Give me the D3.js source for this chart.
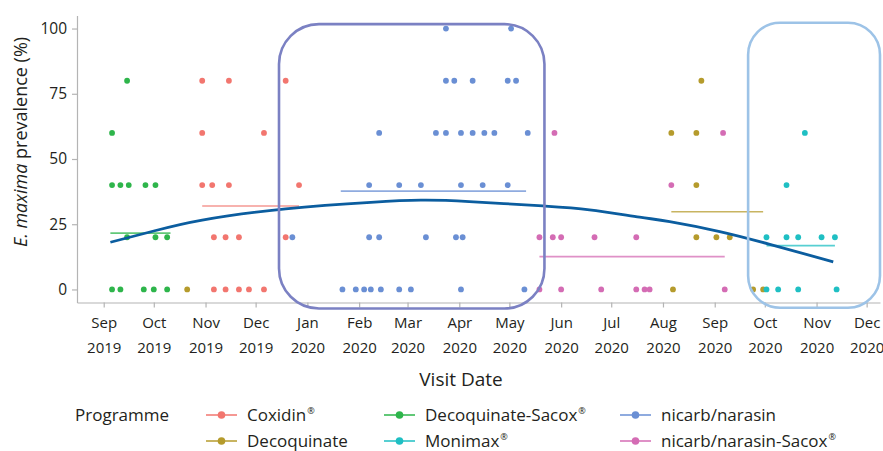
<!DOCTYPE html>
<html>
<head>
<meta charset="utf-8">
<script src="https://cdn.jsdelivr.net/npm/d3@7"></script>
<style>
  body { margin: 0; background: #fff; }
  text { font-family: 'Open Sans', sans-serif; fill: #231f20; }
</style>
</head>
<body>
<div id="chart"></div>
<script>
//
// Data
//
const programmes = ['Coxidin®', 'Decoquinate', 'Decoquinate-Sacox®', 'Monimax®', 'nicarb/narasin', 'nicarb/narasin-Sacox®']

const coxidin = [
  ['2019-10-30', 80], ['2019-11-15', 80], ['2019-12-19', 80],
  ['2019-10-30', 60], ['2019-12-06', 60],
  ['2019-10-30', 40], ['2019-11-05', 40], ['2019-11-15', 40], ['2019-12-27', 40],
  ['2019-11-06', 20], ['2019-11-13', 20], ['2019-11-21', 20], ['2019-12-19', 20],
  ['2019-11-06', 0], ['2019-11-13', 0], ['2019-11-21', 0], ['2019-11-27', 0], ['2019-12-06', 0]
]
const decoquinate = [
  ['2019-10-21', 0], ['2020-08-07', 0], ['2020-09-24', 0], ['2020-09-30', 0],
  ['2020-08-21', 20], ['2020-09-02', 20], ['2020-09-10', 20],
  ['2020-08-21', 40],
  ['2020-08-06', 60], ['2020-08-21', 60],
  ['2020-08-24', 80]
]
const decoquinateSacox = [
  ['2019-09-15', 80], ['2019-09-06', 60],
  ['2019-09-06', 40], ['2019-09-11', 40], ['2019-09-16', 40], ['2019-09-26', 40], ['2019-10-02', 40],
  ['2019-09-15', 20], ['2019-10-02', 20], ['2019-10-09', 20],
  ['2019-09-06', 0], ['2019-09-11', 0], ['2019-09-25', 0], ['2019-10-01', 0], ['2019-10-09', 0]
]
const monimax = [
  ['2020-10-25', 60], ['2020-10-14', 40],
  ['2020-10-02', 20], ['2020-10-14', 20], ['2020-10-21', 20], ['2020-11-04', 20], ['2020-11-12', 20],
  ['2020-10-02', 0], ['2020-10-09', 0], ['2020-10-21', 0], ['2020-11-13', 0]
]
const nicarbNarasin = [
  ['2020-03-24', 100], ['2020-05-02', 100],
  ['2020-03-24', 80], ['2020-03-29', 80], ['2020-04-09', 80], ['2020-04-30', 80], ['2020-05-05', 80],
  ['2020-02-13', 60], ['2020-03-18', 60], ['2020-03-24', 60], ['2020-04-02', 60], ['2020-04-09', 60],
  ['2020-04-16', 60], ['2020-04-22', 60], ['2020-05-12', 60],
  ['2020-02-07', 40], ['2020-02-25', 40], ['2020-03-09', 40], ['2020-04-02', 40], ['2020-04-15', 40], ['2020-04-30', 40],
  ['2019-12-23', 20], ['2020-02-07', 20], ['2020-02-13', 20], ['2020-03-12', 20], ['2020-03-30', 20], ['2020-04-03', 20],
  ['2020-01-22', 0], ['2020-01-30', 0], ['2020-02-04', 0], ['2020-02-08', 0], ['2020-02-14', 0],
  ['2020-02-25', 0], ['2020-03-03', 0], ['2020-04-02', 0], ['2020-05-10', 0]
]
const nicarbNarasinSacox = [
  ['2020-05-28', 60], ['2020-09-06', 60], ['2020-08-06', 40],
  ['2020-05-19', 20], ['2020-05-27', 20], ['2020-06-01', 20], ['2020-06-21', 20], ['2020-07-16', 20],
  ['2020-05-19', 0], ['2020-06-01', 0], ['2020-06-25', 0], ['2020-07-16', 0], ['2020-07-21', 0],
  ['2020-07-24', 0], ['2020-09-07', 0]
]
const pointSeries = [coxidin, decoquinate, decoquinateSacox, monimax, nicarbNarasin, nicarbNarasinSacox]

// programme mean prevalence over the programme period
const meanStart = ['2019-10-30', '2020-08-06', '2019-09-05', '2020-10-02', '2020-01-21', '2020-05-19']
const meanEnd = ['2019-12-27', '2020-09-30', '2019-10-11', '2020-11-12', '2020-05-11', '2020-09-07']
const meanValue = [32.0, 29.8, 21.6, 16.8, 37.7, 12.6]

// overall trend
const trendDates = ['2019-09-05', '2019-10-01', '2019-10-30', '2019-12-19', '2020-02-08', '2020-03-09', '2020-04-07',
  '2020-05-21', '2020-06-18', '2020-07-18', '2020-08-05', '2020-09-04', '2020-10-04', '2020-11-11']
const trendValues = [18.1, 22.4, 26.6, 30.9, 33.4, 34.2, 33.7, 32.0, 30.5, 27.7, 26.0, 22.2, 17.3, 10.6]

// highlight boxes (date range, value range)
const boxStart = ['2019-12-15', '2020-09-21']
const boxEnd = ['2020-05-22', '2020-12-09']
const boxLow = [-7.3, -7.0]
const boxHigh = [101.7, 102.2]

const yTicks = [0, 25, 50, 75, 100]

//
// Styles
//
const colours = ['#f2766f', '#b59b2c', '#2eb54b', '#1fbfc3', '#6a8fd4', '#d46cb4']
const boxColours = ['#7b81c3', '#9dc3e7']
const axisColour = '#b4b4b4'

const width = 883
const height = 451
const parse = d3.utcParse('%Y-%m-%d')

const svg = d3.select('#chart')
  .append('svg')
  .attr('width', width)
  .attr('height', height)

const x = d3.scaleUtc()
  .domain([parse('2019-08-16'), parse('2020-12-09')])
  .range([77, 880])
const y = d3.scaleLinear()
  .domain([-5, 105])
  .range([302.5, 15.5])

//
// Axes
//
const xAxis = svg.append('g')
  .attr('transform', 'translate(0,' + 302.5 + ')')
  .call(d3.axisBottom(x).ticks(d3.utcMonth.every(1)).tickSize(5).tickSizeOuter(0).tickFormat(''))
xAxis.selectAll('path, line').attr('stroke', axisColour).attr('stroke-width', 1.2)
xAxis.selectAll('.tick').each(function (d) {
  const t = d3.select(this).append('text')
    .attr('text-anchor', 'middle')
    .style('font-size', '15px')
  t.append('tspan').attr('x', 0).attr('y', 25.5).text(d3.utcFormat('%b')(d))
  t.append('tspan').attr('x', 0).attr('y', 50).text(d3.utcFormat('%Y')(d))
})

const yAxis = svg.append('g')
  .attr('transform', 'translate(' + 77 + ',0)')
  .call(d3.axisLeft(y).tickValues(yTicks).tickSize(5).tickSizeOuter(0).tickPadding(5))
yAxis.selectAll('path, line').attr('stroke', axisColour).attr('stroke-width', 1.2)
yAxis.selectAll('text')
  .style('font-size', '15.5px')
  .style('font-family', "'Open Sans', sans-serif")
  .attr('fill', '#231f20')

svg.append('text')
  .attr('x', 461)
  .attr('y', 385.5)
  .attr('text-anchor', 'middle')
  .style('font-size', '19px')
  .text('Visit Date')

const yTitle = svg.append('text')
  .attr('transform', 'translate(27,142) rotate(-90)')
  .attr('text-anchor', 'middle')
  .style('font-size', '18px')
yTitle.append('tspan').style('font-style', 'italic').text('E. maxima')
yTitle.append('tspan').text(' prevalence (%)')

//
// Points
//
pointSeries.forEach(function (series, i) {
  svg.append('g')
    .selectAll('circle')
    .data(series)
    .enter().append('circle')
    .attr('cx', d => x(parse(d[0])))
    .attr('cy', d => y(d[1]))
    .attr('r', 2.9)
    .attr('fill', colours[i])
})

//
// Mean lines
//
svg.append('g')
  .selectAll('line')
  .data(programmes)
  .enter().append('line')
  .attr('x1', (d, i) => x(parse(meanStart[i])))
  .attr('x2', (d, i) => x(parse(meanEnd[i])))
  .attr('y1', (d, i) => y(meanValue[i]))
  .attr('y2', (d, i) => y(meanValue[i]))
  .attr('stroke', (d, i) => colours[i])
  .attr('stroke-opacity', 0.75)
  .attr('stroke-width', 1.6)

//
// Trend
//
const trend = trendDates.map((d, i) => [parse(d), trendValues[i]])
svg.append('path')
  .datum(trend)
  .attr('fill', 'none')
  .attr('stroke', '#0b5d9f')
  .attr('stroke-width', 2.8)
  .attr('d', d3.line().x(d => x(d[0])).y(d => y(d[1])).curve(d3.curveNatural))

//
// Highlight boxes
//
boxStart.forEach(function (s, i) {
  const x0 = x(parse(s))
  const x1 = x(parse(boxEnd[i]))
  const y0 = y(boxHigh[i])
  const y1 = y(boxLow[i])
  svg.append('rect')
    .attr('x', x0)
    .attr('y', y0)
    .attr('width', x1 - x0)
    .attr('height', y1 - y0)
    .attr('rx', i === 0 ? 40 : 32)
    .attr('fill', 'none')
    .attr('stroke', boxColours[i])
    .attr('stroke-width', 2.6)
})

//
// Legend
//
svg.append('text')
  .attr('x', 75)
  .attr('y', 420.5)
  .style('font-size', '17px')
  .text('Programme')

const legendX = [206, 384, 620]
const legendY = [415, 441]
const legend = svg.append('g')
programmes.forEach(function (p, i) {
  const lx = legendX[Math.floor(i / 2)]
  const ly = legendY[i % 2]
  const g = legend.append('g').attr('transform', 'translate(' + lx + ',' + ly + ')')
  g.append('line')
    .attr('x1', 0).attr('x2', 31)
    .attr('stroke', colours[i])
    .attr('stroke-opacity', 0.75)
    .attr('stroke-width', 2)
  g.append('circle')
    .attr('cx', 15.5)
    .attr('r', 3.8)
    .attr('fill', colours[i])
  const t = g.append('text')
    .attr('x', 41)
    .attr('y', 5.5)
    .style('font-size', '17px')
  const hasMark = p.endsWith('®')
  t.append('tspan').text(hasMark ? p.slice(0, -1) : p)
  if (hasMark) {
    t.append('tspan').attr('dy', -7).attr('dx', 1).style('font-size', '9px').text('®')
  }
})
</script>
</body>
</html>
